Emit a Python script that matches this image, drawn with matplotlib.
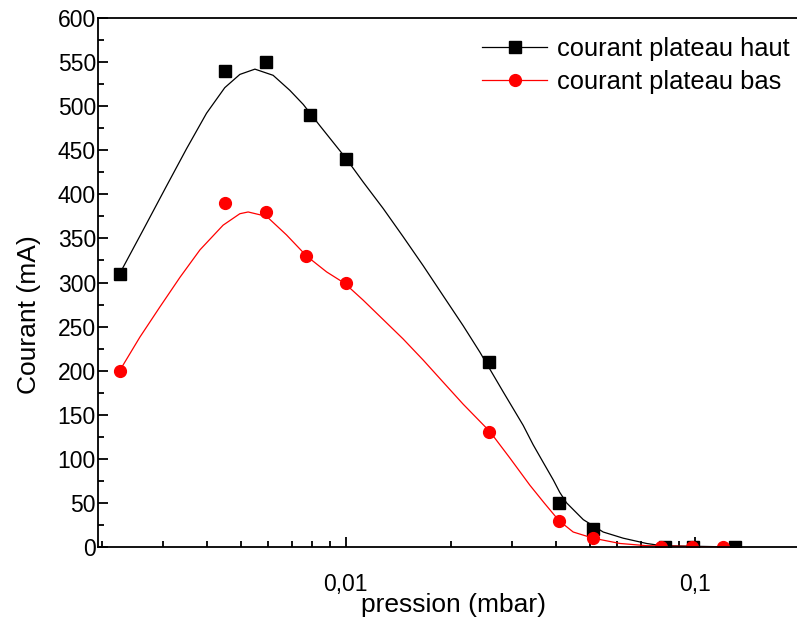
"""
Courant plateau haut / bas en fonction de la pression
"""

import matplotlib
matplotlib.use('Agg')
import matplotlib.pyplot as plt
from matplotlib.ticker import FixedLocator, LogLocator, FuncFormatter, MultipleLocator

plt.rcParams['font.family'] = ['Liberation Sans', 'DejaVu Sans']

# Points mesures
pression_haut = [0.00225, 0.0045, 0.0059, 0.0079, 0.0100, 0.0257, 0.0408, 0.051, 0.082, 0.099, 0.130]
courant_haut = [310, 540, 550, 490, 440, 210, 50, 20, 0, 0, 0]

pression_bas = [0.00225, 0.0045, 0.0059, 0.0077, 0.0100, 0.0257, 0.0408, 0.051, 0.080, 0.098, 0.120]
courant_bas = [200, 390, 380, 330, 300, 130, 30, 10, 0, 0, 0]

# Courbes lissees
lisse_haut_x = [0.00225, 0.00263, 0.00306, 0.00350, 0.00399, 0.00450, 0.00497, 0.00549,
                0.00619, 0.00691, 0.00755, 0.00842, 0.0100, 0.01121, 0.01279, 0.01459,
                0.01666, 0.0190, 0.02168, 0.02421, 0.02823, 0.03221, 0.0344, 0.03676,
                0.0393, 0.0410, 0.0429, 0.0479, 0.0546, 0.0623, 0.0727, 0.0803, 0.130]
lisse_haut_y = [310, 360, 409, 452, 492, 521, 536, 542,
                535, 518, 502, 478, 441, 414, 384, 352,
                319, 285, 251, 221, 176, 138, 116, 96,
                76, 62, 50, 31, 17, 10, 4, 1.5, 0]

lisse_bas_x = [0.00225, 0.00257, 0.00293, 0.00335, 0.00382, 0.00445, 0.00497, 0.00525,
               0.00593, 0.00676, 0.00772, 0.00881, 0.00993, 0.01121, 0.01279, 0.01459,
               0.01666, 0.0190, 0.02168, 0.02585, 0.0295, 0.03368, 0.0370, 0.04077,
               0.0448, 0.0511, 0.0610, 0.0727, 0.1195]
lisse_bas_y = [200, 238, 272, 306, 337, 365, 378, 380,
               375, 354, 330, 312, 299, 280, 258, 236,
               212, 187, 162, 131, 101, 70, 50, 30,
               17, 10, 4, 1.5, 0]

fig = plt.figure(figsize=(7.97, 6.23), dpi=100)
ax = fig.add_axes([98 / 797, 76 / 623, 702 / 797, 529 / 623])

ax.plot(lisse_haut_x, lisse_haut_y, color='black', linewidth=0.9)
ax.plot(lisse_bas_x, lisse_bas_y, color='red', linewidth=0.9)
ax.plot(pression_haut, courant_haut, 's', color='black', markersize=8)
ax.plot(pression_bas, courant_bas, 'o', color='red', markersize=8.5)

# entrees de legende (ligne + symbole)
ax.plot([], [], '-s', color='black', linewidth=0.9, markersize=8, label='courant plateau haut')
ax.plot([], [], '-o', color='red', linewidth=0.9, markersize=8.5, label='courant plateau bas')

ax.set_xscale('log')
ax.set_xlim(0.00195, 0.2)
ax.set_ylim(0, 600)

ax.xaxis.set_major_locator(FixedLocator([0.01, 0.1]))
ax.xaxis.set_major_formatter(FuncFormatter(lambda v, p: f'{v:g}'.replace('.', ',')))
ax.xaxis.set_minor_locator(LogLocator(base=10, subs=range(2, 10)))
ax.xaxis.set_minor_formatter(FuncFormatter(lambda v, p: ''))
ax.yaxis.set_major_locator(MultipleLocator(50))
ax.yaxis.set_minor_locator(MultipleLocator(25))

ax.tick_params(which='both', direction='in', top=False, right=False, width=1.3, labelsize=16.5)
ax.tick_params(which='major', length=7)
ax.tick_params(which='minor', length=4)
ax.tick_params(axis='x', which='major', pad=19)
ax.tick_params(axis='y', which='major', pad=1.5)
for s in ax.spines.values():
    s.set_linewidth(1.3)

ax.set_xlabel('pression (mbar)', fontsize=19)
ax.set_ylabel('Courant (mA)', fontsize=19)
ax.xaxis.set_label_coords(0.507, -0.087)
ax.yaxis.set_label_coords(-0.081, 0.44)

ax.legend(loc='upper right', frameon=False, fontsize=18.4, handlelength=2.55,
          numpoints=1, bbox_to_anchor=(1.0, 0.984), borderaxespad=0,
          handletextpad=0.39, labelspacing=0.35)

plt.savefig('out.png', dpi=100)
